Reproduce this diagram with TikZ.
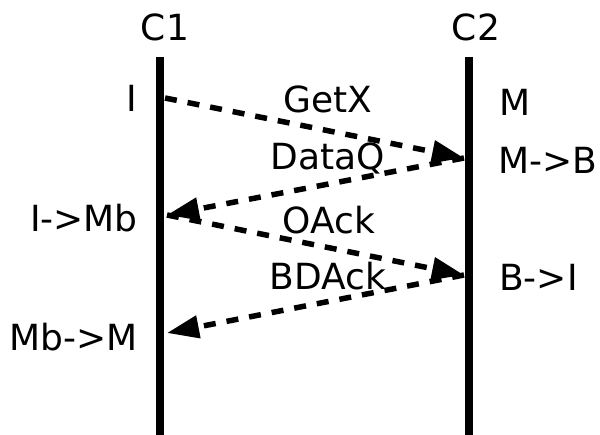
\documentclass[tikz,border=0pt]{standalone}
\usepackage{fontspec}
\setmainfont{DejaVu Sans}
\usetikzlibrary{arrows.meta}
\begin{document}
\begin{tikzpicture}[x=1pt, y=-1pt,
    every node/.style = {font = \fontsize{36}{40}\selectfont, inner sep = 0pt},
    lifeline/.style = {line width = 8pt},
    msg/.style = {line width = 5.5pt, dash pattern = on 12pt off 11pt,
                  -{Triangle[length = 32pt, width = 22pt]}}]
      \useasboundingbox (0, 0) rectangle (600, 435);
      % the two caches
      \node (c1) at (165, 27) {C1};
      \node (c2) at (476, 27) {C2};
      \coordinate (c1top) at (160, 57);
      \coordinate (c1bot) at (160, 435);
      \coordinate (c2top) at (469, 57);
      \coordinate (c2bot) at (469, 435);
      \draw [lifeline] (c1top) -- (c1bot);
      \draw [lifeline] (c2top) -- (c2bot);
      % ends of the messages
      \coordinate (c1a) at (165, 98);
      \coordinate (c2a) at (464, 158);
      \coordinate (c1b) at (167, 215);
      \coordinate (c2b) at (464, 275);
      \coordinate (c1c) at (167, 333);
      \draw [msg] (c1a) -- (c2a);
      \draw [msg] (c2a) -- (c1b);
      \draw [msg] (c1b) -- (c2b);
      \draw [msg] (c2b) -- (c1c);
      \node (getx) at (328, 99) {GetX};
      \node (dataq) at (328, 158) {DataQ};
      \node (oack) at (329, 220) {OAck};
      \node (bdack) at (328, 276) {BDAck};
      % states
      \node [anchor = east] (s1a) at (137, 98) {I};
      \node [anchor = east] (s1b) at (138, 218) {I->Mb};
      \node [anchor = east] (s1c) at (138, 337) {Mb->M};
      \node [anchor = west] (s2a) at (499, 102) {M};
      \node [anchor = west] (s2b) at (498, 160) {M->B};
      \node [anchor = west] (s2c) at (499, 277) {B->I};
    \end{tikzpicture}
\end{document}
